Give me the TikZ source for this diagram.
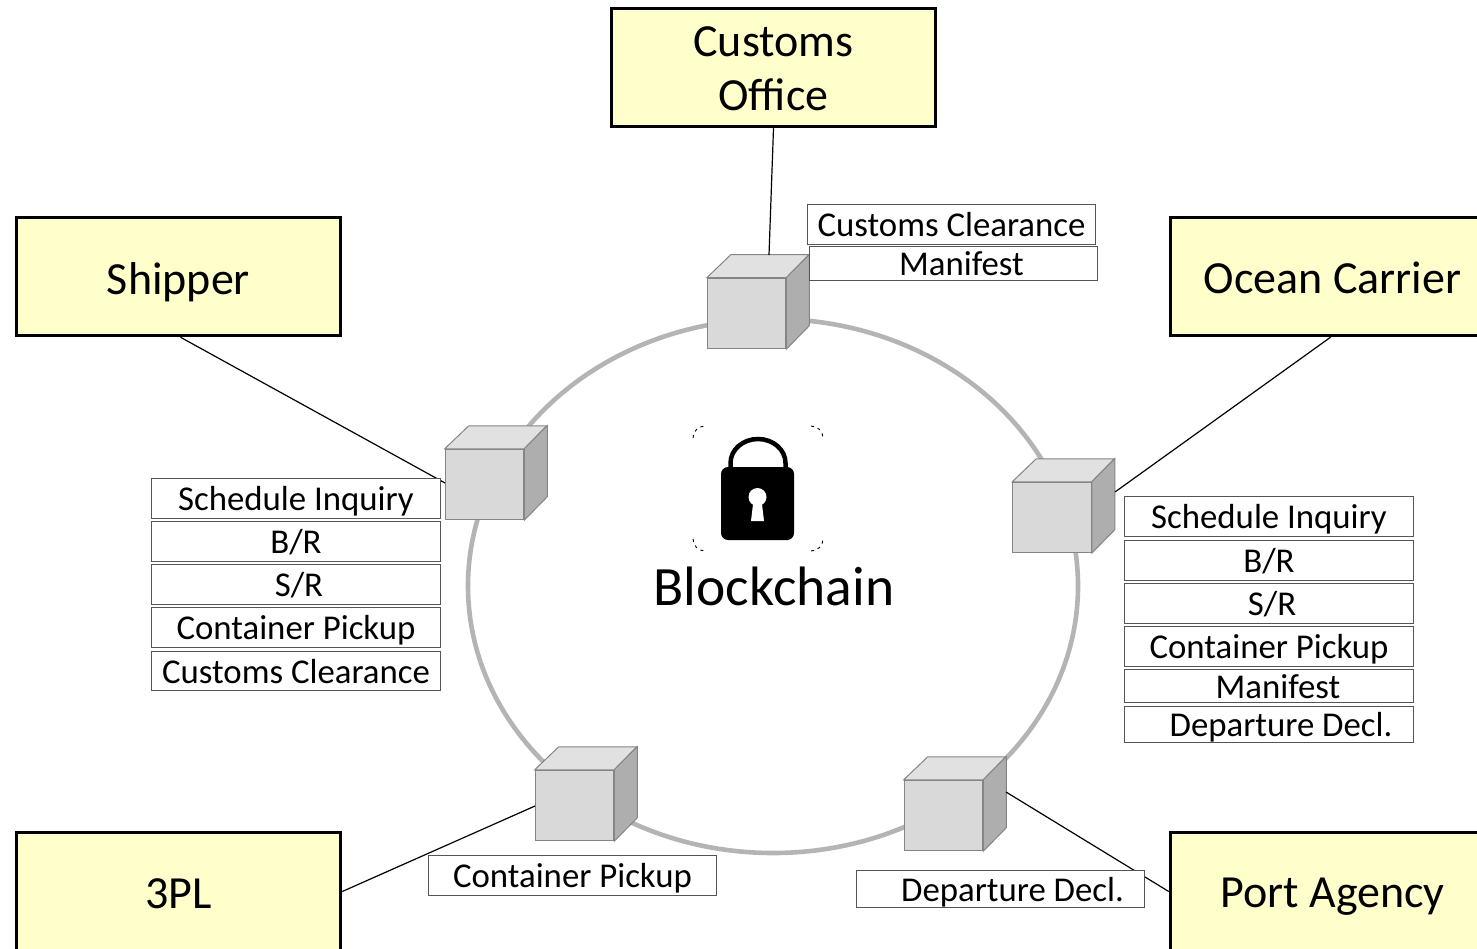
\documentclass[tikz,border=0pt]{standalone}
\usepackage{fontspec}
\setmainfont{Carlito}
\tikzset{
  actor/.style={draw=black,line width=3pt,fill=actorfill,minimum width=324.5pt,minimum height=118.5pt,inner sep=0pt,align=center,text height=35pt,text depth=0pt,font=\fontsize{46}{54}\selectfont},
  tag/.style={draw=tagline,line width=1pt,fill=white,inner sep=0pt,text height=24pt,text depth=0pt,font=\fontsize{34.8}{36}\selectfont},
  wire/.style={draw=black,line width=1.2pt},
  ring/.style={draw=ringgrey,line width=4.6pt},
  cubefront/.style={draw=cubeedge,line width=1pt,fill=cubemid,minimum width=78.5pt,minimum height=70.5pt,inner sep=0pt},
}
\definecolor{actorfill}{HTML}{FFFFCC}
\definecolor{tagline}{HTML}{555555}
\definecolor{ringgrey}{HTML}{B4B4B4}
\definecolor{cubeedge}{HTML}{858585}
\definecolor{cubemid}{HTML}{D9D9D9}
\definecolor{cubetop}{HTML}{E1E1E1}
\definecolor{cubeside}{HTML}{AEAEAE}
% #1 name, #2 #3 centre of front face
\newcommand{\blockcube}[3]{%
  \node[cubefront] (#1) at (#2,#3) {};
  \fill[cubetop,draw=cubeedge,line width=1pt] (#1.north west) -- ++(24,-23) -- ++(78,0) -- (#1.north east) -- cycle;
  \fill[cubeside,draw=cubeedge,line width=1pt] (#1.north east) -- ++(23,-23) -- ++(0,71) -- (#1.south east) -- cycle;
}
% #1 name, #2 x1, #3 y1, #4 x2, #5 y2, #6 text shift, #7 text
\newcommand{\tagbox}[7]{%
  \pgfmathsetmacro{\tagw}{#4-#2-0.5}\pgfmathsetmacro{\tagh}{#5-#3-0.5}%
  \pgfmathsetmacro{\tagx}{(#2+#4)/2}\pgfmathsetmacro{\tagy}{(#3+#5)/2}%
  \pgfmathsetmacro{\tags}{2*#6}%
  \node[tag,minimum width=\tagw pt,minimum height=\tagh pt] (#1) at (\tagx,\tagy) {\hspace*{\tags pt}#7};
}
\begin{document}
\begin{tikzpicture}[x=1pt,y=-1pt]
\useasboundingbox (0,0) rectangle (1477,949);
\clip (0,0) rectangle (1477,949);
\fill[white] (0,0) rectangle (1477,949);
% ring
\draw[ring] (773,586) ellipse [x radius=305, y radius=267];
% actors
\node[actor,text height=87pt] (customs) at (773.5,67.5) {Customs\\Office};
\node[actor,text height=36pt] (shipper) at (178.5,276.5) {Shipper};
\node[actor] (carrier) at (1332.5,276.5) {Ocean Carrier};
\node[actor,text height=33pt] (tpl) at (178.5,891.5) {3PL};
\node[actor,text height=32pt] (port) at (1332.5,891.5) {Port Agency};
% cubes
\blockcube{cubeA}{746.5}{313.5}
\blockcube{cubeB}{484.5}{484.5}
\blockcube{cubeC}{1052}{517.5}
\blockcube{cubeD}{574.5}{805.5}
\blockcube{cubeE}{943.5}{815.5}
% connector ends on the cubes
\coordinate (endA) at (769,255);
\coordinate (endB) at (445,483);
\coordinate (endC) at (1115,492);
\coordinate (endD) at (535,806);
\coordinate (endE) at (1006,792);
\draw[wire] (customs.south) -- (endA);
\draw[wire] ([xshift=2pt]shipper.south) -- (endB);
\draw[wire] ([xshift=-2pt]carrier.south) -- (endC);
\draw[wire] (tpl.east) -- (endD);
\draw[wire] (port.west) -- (endE);
% tags
\tagbox{cc1}{807}{204}{1096}{245}{0}{Customs Clearance}
\tagbox{cc2}{809}{246}{1098}{281}{8}{Manifest}
\tagbox{s1}{151}{478}{441}{519}{0}{Schedule Inquiry}
\tagbox{s2}{151}{521}{441}{562}{0}{B/R}
\tagbox{s3}{151}{564}{441}{605}{3}{S/R}
\tagbox{s4}{151}{607}{441}{648}{0}{Container Pickup}
\tagbox{s5}{151}{651}{441}{691}{0}{Customs Clearance}
\tagbox{o1}{1124}{496}{1414}{537}{0}{Schedule Inquiry}
\tagbox{o2}{1124}{540}{1414}{581}{0}{B/R}
\tagbox{o3}{1124}{583}{1414}{624}{3}{S/R}
\tagbox{o4}{1124}{626}{1414}{667}{0}{Container Pickup}
\tagbox{o5}{1124}{669}{1414}{703}{9}{Manifest}
\tagbox{o6}{1124}{706}{1414}{743}{12}{Departure Decl.}
\tagbox{t1}{428}{855}{717}{896}{0}{Container Pickup}
\tagbox{p1}{856}{870}{1145}{908}{12}{Departure Decl.}
% padlock
\draw[black,line width=4.5pt] (730.5,468) -- (730.5,463) arc [start angle=180,end angle=360,x radius=27.5,y radius=24] -- (785.5,468);
\fill[black,rounded corners=7pt] (721,467) rectangle (794,540);
\fill[white] (757.5,497) circle (9);
\fill[white] (753.5,500) -- (761.5,500) -- (764,521) -- (751,521) -- cycle;
% frame marks round the padlock
\draw[black,line width=0.9pt,dash pattern=on 3pt off 4pt] (693,438) arc [start angle=180,end angle=270,radius=12];
\draw[black,line width=0.9pt,dash pattern=on 3pt off 4pt] (811,426) arc [start angle=270,end angle=360,radius=12];
\draw[black,line width=0.9pt,dash pattern=on 3pt off 4pt] (693,539) arc [start angle=180,end angle=90,radius=12];
\draw[black,line width=0.9pt,dash pattern=on 3pt off 4pt] (811,551) arc [start angle=90,end angle=0,radius=12];
\node[inner sep=0pt,font=\fontsize{55.5}{60}\selectfont] (chain) at (774,586) {Blockchain};
\end{tikzpicture}
\end{document}
